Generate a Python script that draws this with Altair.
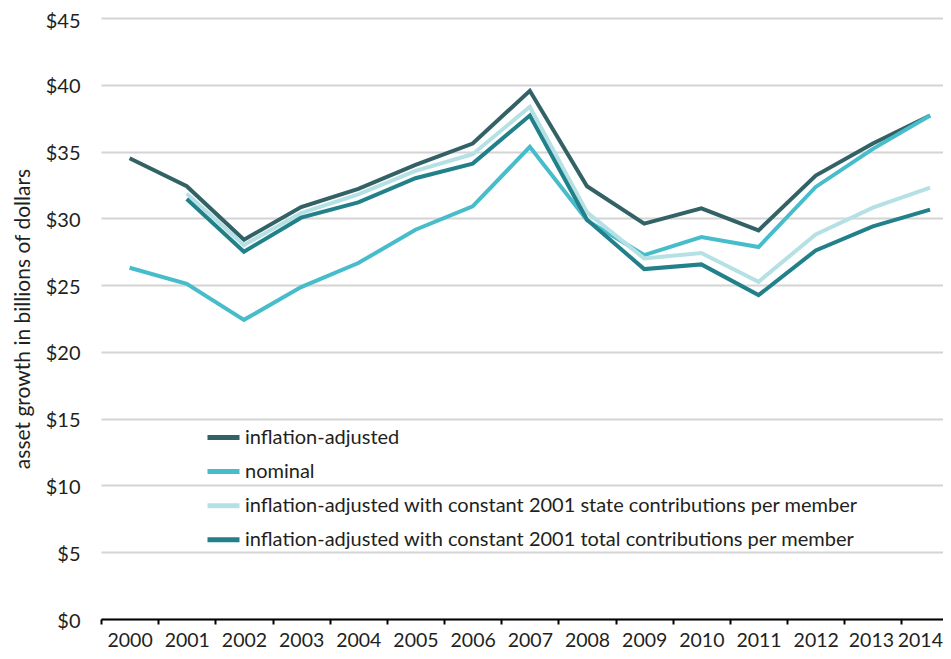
import altair as alt
import pandas as pd

years = list(range(2000, 2015))
series_names = [
    "inflation-adjusted",
    "nominal",
    "inflation-adjusted with constant 2001 state contributions per member",
    "inflation-adjusted with constant 2001 total contributions per member",
]
inflation_adjusted = [34.5, 32.4, 28.4, 30.85, 32.2, 34.0, 35.6, 39.55, 32.4, 29.6, 30.75, 29.1, 33.2, 35.6, 37.7]
nominal = [26.3, 25.1, 22.4, 24.85, 26.65, 29.15, 30.9, 35.35, 29.85, 27.25, 28.6, 27.85, 32.35, 35.2, 37.7]
state_const = [None, 31.85, 28.0, 30.4, 31.8, 33.55, 34.8, 38.35, 30.45, 27.0, 27.4, 25.25, 28.8, 30.8, 32.3]
total_const = [None, 31.45, 27.5, 30.05, 31.2, 33.0, 34.1, 37.7, 29.9, 26.2, 26.55, 24.25, 27.6, 29.4, 30.65]
colors = ["#336266", "#47bdcb", "#b5e1e4", "#22808a"]
y_ticks = [0, 5, 10, 15, 20, 25, 30, 35, 40, 45]
x_ticks = [y - 0.5 for y in years]

rows = []
for name, vals in zip(series_names, [inflation_adjusted, nominal, state_const, total_const]):
    for yr, v in zip(years, vals):
        if v is not None:
            rows.append({"series": name, "year": yr, "value": v})
df = pd.DataFrame(rows)

FONT = "Lato"
TXT = "#231f20"
LAST = x_ticks[-1]

chart = (
    alt.Chart(df)
    .mark_line(strokeWidth=4, strokeJoin="miter")
    .encode(
        x=alt.X(
            "year:Q",
            scale=alt.Scale(domain=[1999.5, 2014.226], nice=False, zero=False),
            axis=alt.Axis(
                title=None,
                values=x_ticks,
                labelExpr="datum.value + 0.5",
                labelOffset=alt.ExprRef(
                    f"datum.value > {LAST - 0.1} ? 41 : (datum.value > {LAST - 1.1} ? 26.6 : 28.6)"
                ),
                labelAlign=alt.ExprRef(f"datum.value > {LAST - 0.1} ? 'right' : 'center'"),
                labelFlush=False,
                labelOverlap=False,
                grid=False,
                domainColor="#000000",
                domainWidth=2,
                tickColor="#000000",
                tickWidth=2,
                tickSize=5,
                labelPadding=7,
                labelFontSize=19.5,
                labelFont=FONT,
                labelColor=TXT,
            ),
        ),
        y=alt.Y(
            "value:Q",
            scale=alt.Scale(domain=[0, 45], nice=False),
            axis=alt.Axis(
                title="asset growth in billions of dollars",
                titleFont=FONT,
                titleFontSize=21,
                titleFontWeight="normal",
                titleColor=TXT,
                titlePadding=12,
                values=y_ticks,
                labelExpr="'$' + datum.value",
                labelOffset=alt.ExprRef("datum.value > 44 ? 3 : 2"),
                grid=True,
                gridColor="#d4d4d4",
                gridWidth=2,
                domain=False,
                ticks=False,
                tickSize=0,
                labelPadding=21,
                labelFontSize=20,
                labelFont=FONT,
                labelColor=TXT,
            ),
        ),
        color=alt.Color(
            "series:N",
            scale=alt.Scale(domain=series_names, range=colors),
            legend=alt.Legend(
                title=None,
                orient="none",
                legendX=104,
                legendY=401,
                direction="vertical",
                symbolType="stroke",
                symbolSize=1024,
                symbolStrokeWidth=5,
                labelFontSize=20,
                labelFont=FONT,
                labelColor=TXT,
                labelOffset=3,
                rowPadding=5.1,
                padding=0,
                labelLimit=800,
            ),
        ),
        order=alt.Order("year:Q"),
    )
    .properties(
        width=842,
        height=601,
        padding={"left": 93, "top": 10, "right": 0, "bottom": 31},
        autosize=alt.AutoSizeParams(type="none"),
    )
    .configure_view(stroke=None)
)

chart.save("out.html", embed_options={"renderer": "svg", "actions": False})
